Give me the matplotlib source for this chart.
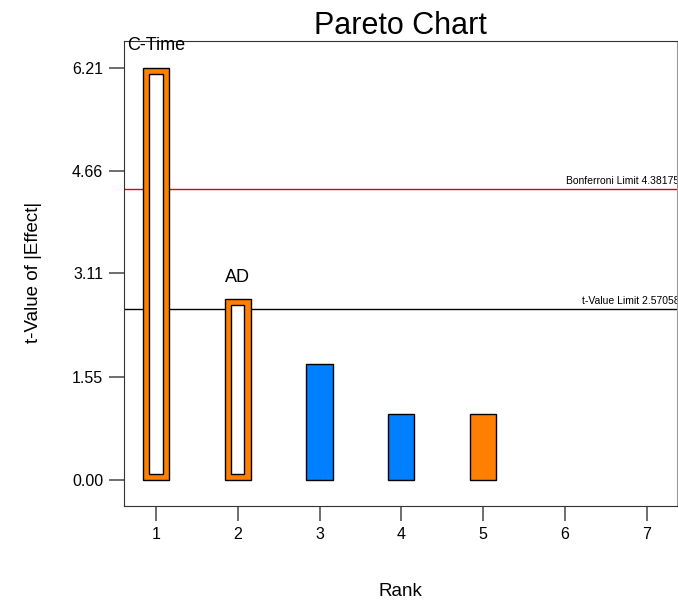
import matplotlib
matplotlib.use("Agg")
import matplotlib.pyplot as plt

# data
ranks = [1, 2, 3, 4, 5]
t_values = [6.21, 2.72, 1.74, 0.99, 0.99]
bar_colors = ["#FF8000", "#FF8000", "#0080FF", "#0080FF", "#FF8000"]
hollow = [True, True, False, False, False]
bar_labels = ["C-Time", "AD", "", "", ""]
y_ticks = [0.00, 1.55, 3.11, 4.66, 6.21]
x_ticks = [1, 2, 3, 4, 5, 6, 7]
bonferroni = 4.38175
t_limit = 2.57058

plt.rcParams["font.family"] = ["Liberation Sans", "DejaVu Sans"]

fig = plt.figure(figsize=(6.78, 6.02), dpi=100)
ax = fig.add_axes([0.183, 0.1595, 0.8156, 0.7724])

width = 0.32
ax.bar(ranks, t_values, width=width, color=bar_colors,
       edgecolor="black", linewidth=1, zorder=3)

# hollow (white inside) bars for the significant effects
for r, v, h in zip(ranks, t_values, hollow):
    if h:
        ax.bar(r, v - 0.18, bottom=0.09, width=0.16, color="white",
               edgecolor="black", linewidth=1, zorder=4)

for r, v, lab in zip(ranks, t_values, bar_labels):
    if lab:
        ax.annotate(lab, (r, v), xytext=(0, 10), textcoords="offset points",
                    ha="center", va="bottom", fontsize=13, annotation_clip=False)

ax.axhline(bonferroni, color="#E00000", linewidth=1, zorder=2)
ax.axhline(t_limit, color="black", linewidth=1, zorder=2)
ax.text(7.40, bonferroni + 0.05, f"Bonferroni Limit {bonferroni}",
        ha="right", va="bottom", fontsize=7.5, clip_on=True)
ax.text(7.40, t_limit + 0.05, f"t-Value Limit {t_limit}",
        ha="right", va="bottom", fontsize=7.5, clip_on=True)

ax.set_xlim(0.61, 7.37)
ax.set_ylim(-0.39, 6.61)
ax.set_xticks(x_ticks)
ax.set_yticks(y_ticks)
ax.set_yticklabels([f"{t:.2f}" for t in y_ticks])
ax.tick_params(axis="both", direction="out", length=11, width=1.2,
               color="#555555", labelsize=11.5, pad=4)

for side in ["left", "bottom", "top"]:
    ax.spines[side].set_color("#333333")
ax.spines["right"].set_color("#999999")

ax.set_title("Pareto Chart", fontsize=22, pad=1)
fig.text(400 / 678, 1 - 591 / 602, "Rank", fontsize=13.5,
         ha="center", va="center")
fig.text(33 / 678, 1 - 272 / 602, "t-Value of |Effect|", fontsize=13.5,
         ha="center", va="center", rotation=90)

fig.savefig("out.png", dpi=100)
